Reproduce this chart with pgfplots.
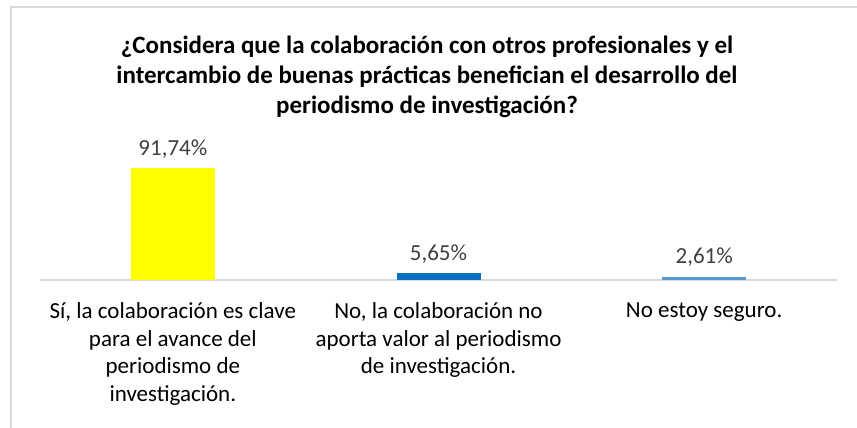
\documentclass[border=0pt]{standalone}
\usepackage{pgfplots}
\pgfplotsset{compat=1.18}
\usepackage{fontspec}
\setmainfont{Carlito}
\definecolor{bord}{HTML}{D9D9D9}
\definecolor{lab}{HTML}{404040}
\definecolor{cyellow}{HTML}{FFFF00}
\definecolor{cdblue}{HTML}{0070C0}
\definecolor{clblue}{HTML}{5B9BD5}
\begin{document}
\begin{tikzpicture}
\useasboundingbox (0pt,0pt) rectangle (857pt,428pt);
\draw[bord, line width=1.5pt] (11pt,0pt) -- (11pt,421pt) -- (857pt,421pt);
\node[font=\fontsize{25}{30}\selectfont\bfseries, align=center, text=black] at (427pt,351pt)
  {¿Considera que la colaboración con otros profesionales y el\\intercambio de buenas prácticas benefician el desarrollo del\\periodismo de investigación?};
\begin{axis}[
  at={(40pt,148pt)}, anchor=south west,
  scale only axis, width=797pt, height=122.08pt,
  xmin=-0.5, xmax=2.5, ymin=0, ymax=100,
  axis y line=none, axis x line=bottom,
  x axis line style={draw=bord, line width=1.5pt, -},
  major tick length=0pt,
  xtick={0,1,2},
  xticklabels={{Sí, la colaboración es clave\\para el avance del\\periodismo de\\investigación.},{No, la colaboración no\\aporta valor al periodismo\\de investigación.},{No estoy seguro.}},
  xticklabel style={font=\fontsize{23}{27.5}\selectfont, align=center, text=black, anchor=north, yshift=-19pt},
  ybar, bar width=84pt, bar shift=0pt,
  clip=false,
  /pgf/number format/assume math mode=true,
  nodes near coords={\pgfmathprintnumber[fixed,fixed zerofill,precision=2,use comma]{\pgfplotspointmeta}\%},
  nodes near coords style={font=\fontsize{23}{27.5}\selectfont, text=lab, anchor=base, yshift=13pt},
]
\addplot[fill=cyellow, draw=none] coordinates {(0,91.74)};
\addplot[fill=cdblue, draw=none] coordinates {(1,5.65)};
\addplot[fill=clblue, draw=none] coordinates {(2,2.61)};
\end{axis}
\end{tikzpicture}
\end{document}
